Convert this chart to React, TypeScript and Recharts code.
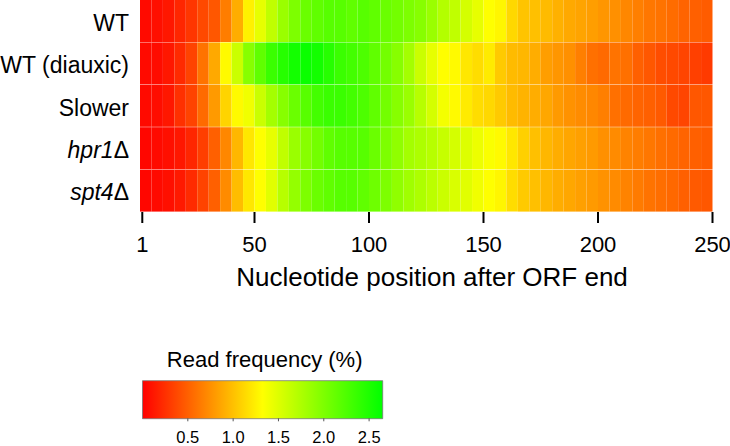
import React from "react"
import { BarChart, Bar, XAxis, YAxis, Cell } from "recharts"

// read frequency (%) per 5-nt bin after the ORF end, bins 1-5, 6-10, ... 246-250
const rowNames = ["WT", "WT (diauxic)", "Slower", "hpr1Δ", "spt4Δ"]
const italicRows = ["hpr1Δ", "spt4Δ"]

const wt = [
  0.05, 0.08, 0.12, 0.2, 0.28, 0.38, 0.45, 0.65, 0.9, 1.25,
  1.45, 1.65, 1.85, 2.0, 2.1, 2.15, 2.2, 2.2, 2.15, 2.2,
  2.15, 2.1, 2.05, 2.0, 1.95, 1.85, 1.72, 1.65, 1.55, 1.45,
  1.33, 1.28, 1.12, 1.02, 1.0, 0.97, 0.92, 0.88, 0.85, 0.82,
  0.78, 0.75, 0.7, 0.66, 0.62, 0.6, 0.56, 0.52, 0.5, 0.48,
]
const wtDiauxic = [
  0.05, 0.06, 0.12, 0.22, 0.35, 0.6, 0.88, 1.3, 1.6, 1.95,
  2.15, 2.35, 2.45, 2.55, 2.6, 2.55, 2.45, 2.35, 2.3, 2.25,
  2.15, 2.05, 1.95, 1.8, 1.6, 1.45, 1.32, 1.3, 1.2, 1.15,
  1.22, 1.05, 0.97, 0.95, 0.9, 0.82, 0.78, 0.75, 0.66, 0.58,
  0.55, 0.6, 0.58, 0.5, 0.45, 0.4, 0.38, 0.36, 0.33, 0.3,
]
const slower = [
  0.05, 0.07, 0.12, 0.25, 0.35, 0.55, 0.8, 1.1, 1.3, 1.4,
  1.6, 1.8, 1.95, 2.1, 2.2, 2.3, 2.35, 2.35, 2.3, 2.25,
  2.15, 2.05, 1.95, 1.85, 1.7, 1.55, 1.38, 1.3, 1.22, 1.15,
  1.12, 1.05, 0.97, 0.93, 0.9, 0.87, 0.8, 0.76, 0.73, 0.7,
  0.66, 0.58, 0.55, 0.52, 0.5, 0.47, 0.38, 0.36, 0.45, 0.45,
]
const hpr1 = [
  0.03, 0.05, 0.08, 0.12, 0.2, 0.32, 0.5, 0.7, 0.95, 1.2,
  1.33, 1.45, 1.65, 1.85, 1.95, 2.05, 2.15, 2.2, 2.2, 2.2,
  2.1, 2.0, 1.9, 1.8, 1.75, 1.7, 1.62, 1.55, 1.5, 1.42,
  1.35, 1.3, 1.2, 1.08, 1.0, 0.95, 0.9, 0.86, 0.83, 0.8,
  0.75, 0.72, 0.68, 0.65, 0.62, 0.58, 0.55, 0.52, 0.5, 0.48,
]
const spt4 = [
  0.03, 0.05, 0.08, 0.13, 0.22, 0.35, 0.5, 0.72, 0.98, 1.2,
  1.32, 1.48, 1.7, 1.88, 2.0, 2.1, 2.15, 2.2, 2.2, 2.15,
  2.08, 2.0, 1.9, 1.82, 1.75, 1.68, 1.6, 1.52, 1.48, 1.4,
  1.33, 1.28, 1.15, 1.05, 1.0, 0.95, 0.9, 0.87, 0.83, 0.8,
  0.76, 0.72, 0.68, 0.64, 0.6, 0.57, 0.54, 0.5, 0.47, 0.45,
]
const rowValues = [wt, wtDiauxic, slower, hpr1, spt4]

const binSize = 5
const positionTicks = [1, 50, 100, 150, 200, 250]
const scaleMax = 2.65
const scaleTicks = [0.5, 1.0, 1.5, 2.0, 2.5]

const FONT = "'Liberation Sans', Arial, Helvetica, sans-serif"

// red -> yellow -> green, like the colour key
const colorFor = (v: number) => {
  const t = Math.max(0, Math.min(1, v / scaleMax))
  if (t < 0.5) return `rgb(255,${Math.round(510 * t)},0)`
  return `rgb(${Math.round(510 * (1 - t))},255,0)`
}

const binKeys = wt.map((_, k) => `b${k}`)
const heatRows = rowNames.map((name) => {
  const row: Record<string, any> = { name }
  binKeys.forEach((key) => (row[key] = binSize))
  return row
})

const RowTick = ({ x, y, payload }: any) => {
  const label: string = payload.value
  const isGene = italicRows.includes(label)
  return (
    <text x={x - 11} y={y + 9.5} textAnchor="end" fontSize={23} fontFamily={FONT} fill="#000">
      {isGene ? (
        <>
          <tspan fontStyle="italic">{label.slice(0, -1)}</tspan>
          <tspan>{label.slice(-1)}</tspan>
        </>
      ) : (
        label
      )}
    </text>
  )
}

export default function App() {
  return (
    <div style={{ position: "absolute", left: 0, top: 0, width: 730, height: 446, background: "#fff" }}>
      <svg width={730} height={446} style={{ position: "absolute", left: 0, top: 0, pointerEvents: "none" }}>
        <defs>
          <linearGradient id="readFreqGrad" x1="0" y1="0" x2="1" y2="0">
            <stop offset="0%" stopColor="#ff0000" />
            <stop offset="50%" stopColor="#ffff00" />
            <stop offset="100%" stopColor="#00ff00" />
          </linearGradient>
        </defs>
      </svg>

      <div style={{ position: "absolute", left: 0, top: 0 }}>
        <BarChart
          width={730}
          height={300}
          data={heatRows}
          layout="vertical"
          margin={{ top: 0, right: 17.5, left: 0, bottom: 0 }}
          barCategoryGap={0}
        >
          <XAxis
            type="number"
            domain={[0, 250]}
            ticks={positionTicks}
            interval={0}
            height={88}
            axisLine={false}
            tickLine={{ stroke: "#000", strokeWidth: 2 }}
            tickSize={11}
            tickMargin={13}
            tick={{ fontSize: 22, fill: "#000", fontFamily: FONT }}
          />
          <YAxis
            type="category"
            dataKey="name"
            width={140}
            axisLine={false}
            tickLine={false}
            tickSize={0}
            tickMargin={0}
            tick={<RowTick />}
          />
          {binKeys.map((key, k) => (
            <Bar key={key} dataKey={key} stackId="pos" isAnimationActive={false}>
              {rowValues.map((vals, r) => (
                <Cell key={r} fill={colorFor(vals[k])} />
              ))}
            </Bar>
          ))}
        </BarChart>
      </div>

      <svg width={730} height={446} style={{ position: "absolute", left: 0, top: 0, pointerEvents: "none" }}>
        <text x={432} y={286} textAnchor="middle" fontSize={26} fontFamily={FONT} fill="#000">
          Nucleotide position after ORF end
        </text>
        <text x={264.7} y={366.7} textAnchor="middle" fontSize={22} fontFamily={FONT} fill="#000">
          Read frequency (%)
        </text>
      </svg>

      <div style={{ position: "absolute", left: 0, top: 370 }}>
        <BarChart
          width={400}
          height={76}
          data={[{ name: "key", value: scaleMax }]}
          layout="vertical"
          margin={{ top: 10.7, right: 17.3, left: 142.5, bottom: 0 }}
          barCategoryGap={0}
        >
          <XAxis
            type="number"
            domain={[0, scaleMax]}
            ticks={scaleTicks}
            interval={0}
            height={27.7}
            axisLine={false}
            tickLine={{ stroke: "#555", strokeWidth: 1 }}
            tickSize={3}
            tickMargin={10}
            tickFormatter={(v: number) => v.toFixed(1)}
            tick={{ fontSize: 16.5, fill: "#000", fontFamily: FONT }}
          />
          <YAxis type="category" dataKey="name" hide />
          <Bar dataKey="value" fill="url(#readFreqGrad)" stroke="#777" strokeWidth={0.8} isAnimationActive={false} />
        </BarChart>
      </div>
    </div>
  )
}
